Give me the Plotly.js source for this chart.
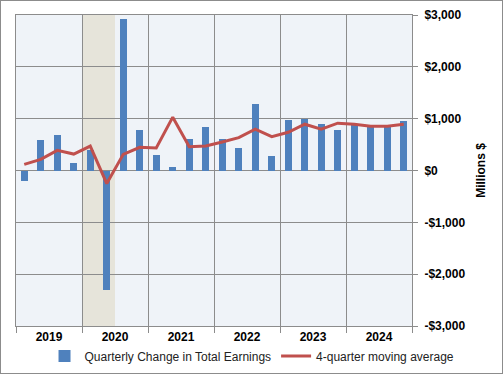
<!DOCTYPE html>
<html>
<head>
<meta charset="utf-8">
<script src="https://cdn.plot.ly/plotly-3.0.1.min.js"></script>
<style>
html,body{margin:0;padding:0;background:#fff;}
#wrap{position:relative;width:503px;height:375px;}
#chart{width:503px;height:375px;}
#frame{position:absolute;left:0;top:0;width:501px;height:372px;border:1px solid #8c8c8c;pointer-events:none;}
</style>
</head>
<body>
<div id="wrap"><div id="chart"></div><div id="frame"></div></div>
<script>
const quarters = ['2019Q1','2019Q2','2019Q3','2019Q4','2020Q1','2020Q2','2020Q3','2020Q4',
  '2021Q1','2021Q2','2021Q3','2021Q4','2022Q1','2022Q2','2022Q3','2022Q4',
  '2023Q1','2023Q2','2023Q3','2023Q4','2024Q1','2024Q2','2024Q3','2024Q4'];
const quarterlyChange = [-200, 590, 690, 145, 400, -2300, 2920, 785,
  300, 65, 610, 845, 610, 432, 1290, 280,
  965, 1000, 900, 785, 890, 860, 860, 962];
const movingAverage = [117, 214, 388, 317, 472, -252, 311, 447,
  434, 1029, 460, 472, 550, 635, 796, 654,
  738, 893, 796, 913, 893, 854, 854, 893];
const years = ['2019','2020','2021','2022','2023','2024'];
const recession = ['2020Q1','2020Q2'];
const yTicks = [-3000,-2000,-1000,0,1000,2000,3000];
const yTickText = ['-$3,000','-$2,000','-$1,000','$0','$1,000','$2,000','$3,000'];

const xIdx = quarters.map((q,i)=>i);
const yearCenters = years.map(y => {
  const idx = quarters.map((q,i)=>q.startsWith(y)?i:null).filter(v=>v!==null);
  return (idx[0]+idx[idx.length-1])/2;
});
const yearBounds = [];
years.forEach(y => { yearBounds.push(quarters.findIndex(q=>q.startsWith(y)) - 0.5); });
yearBounds.push(quarters.length - 0.5);

const grid = '#8c8c8c';
const font = 'Liberation Sans, Arial, sans-serif';

const traces = [
  {type:'bar', x:xIdx, y:quarterlyChange, name:'Quarterly Change in Total Earnings',
   marker:{color:'#4f81bd'}, width:0.42},
  {type:'scatter', mode:'lines', x:xIdx, y:movingAverage, name:'4-quarter moving average',
   line:{color:'#c0504d', width:3}}
];

const layout = {
  width:503, height:375,
  margin:{l:15.5, r:91, t:15, b:48.5, autoexpand:false},
  paper_bgcolor:'#ffffff', plot_bgcolor:'#eff3f8',
  font:{family:font, color:'#000'},
  showlegend:true,
  legend:{orientation:'h', x:1.12, xanchor:'right', y:-0.05, yanchor:'top',
    font:{size:12, color:'#222'},
    bgcolor:'rgba(0,0,0,0)', itemwidth:30, traceorder:'normal', tracegroupgap:0},
  bargap:0,
  xaxis:{range:[-0.5, quarters.length-0.5], tickmode:'array', tickvals:yearCenters, ticktext:years,
    ticks:'', showgrid:false, zeroline:false, showline:true, linecolor:grid, mirror:true,
    tickfont:{size:12, weight:'bold', color:'#000'},
    minor:{tickmode:'array', tickvals:yearBounds, ticks:'outside', ticklen:6, tickcolor:grid,
      showgrid:true, gridcolor:grid, gridwidth:1},
    fixedrange:true},
  yaxis:{side:'right', range:[-3000,3000], tickmode:'array', tickvals:yTicks, ticktext:yTickText,
    showgrid:true, gridcolor:grid, gridwidth:1, zeroline:false, showline:true, linecolor:grid, mirror:true,
    ticks:'outside', ticklen:5, tickcolor:grid, ticklabelstandoff:4,
    tickfont:{size:12, weight:'bold', color:'#000'},
    title:{text:'Millions $', font:{size:12, weight:'bold', color:'#000'}, standoff:12},
    fixedrange:true},
  shapes:[{type:'rect', xref:'x', yref:'paper',
    x0: quarters.indexOf(recession[0]) - 0.5, x1: quarters.indexOf(recession[recession.length-1]) + 0.5,
    y0:0, y1:1, fillcolor:'#e6e4da', line:{width:0}, layer:'below'}]
};

Plotly.newPlot('chart', traces, layout, {displayModeBar:false, staticPlot:true});
</script>
</body>
</html>
